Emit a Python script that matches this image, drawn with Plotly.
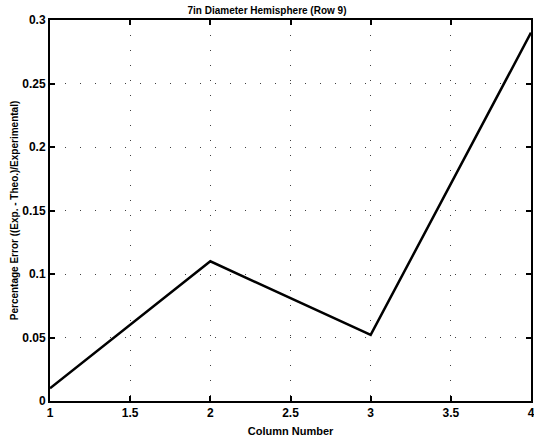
import plotly.graph_objects as go

# Percentage error per column, row 9 of the 7 in hemisphere
columns = [1, 2, 3, 4]
pct_error = [0.010, 0.110, 0.052, 0.290]

x_ticks = [1, 1.5, 2, 2.5, 3, 3.5, 4]
x_tick_text = ["1", "1.5", "2", "2.5", "3", "3.5", "4"]
y_ticks = [0, 0.05, 0.1, 0.15, 0.2, 0.25, 0.3]
y_tick_text = ["0", "0.05", "0.1", "0.15", "0.2", "0.25", "0.3"]

font_family = "Liberation Sans, Arial, sans-serif"

fig = go.Figure()
fig.add_trace(go.Scatter(
    x=columns, y=pct_error, mode="lines",
    line=dict(color="black", width=2.5),
    showlegend=False,
))

axis_common = dict(
    showline=True, linecolor="black", linewidth=2, mirror="ticks",
    ticks="inside", ticklen=5, tickcolor="black", tickwidth=1.5,
    showgrid=True, gridcolor="rgba(0,0,0,0.75)", gridwidth=1,
    griddash="1px,14px", zeroline=False, automargin=False,
    ticklabeloverflow="allow",
    tickfont=dict(family=font_family, size=12, color="black", weight="bold"),
)

fig.update_layout(
    width=534, height=441,
    margin=dict(l=50, r=3, t=20, b=40),
    paper_bgcolor="white", plot_bgcolor="white",
    title=dict(
        text="<b>7in Diameter Hemisphere (Row 9)</b>",
        x=0.5, xanchor="center", y=0.985, yanchor="top",
        font=dict(family=font_family, size=10, color="black"),
    ),
    xaxis=dict(
        range=[1, 4], tickvals=x_ticks, ticktext=x_tick_text,
        title=dict(text="<b>Column Number</b>", standoff=8,
                   font=dict(family=font_family, size=11, color="black")),
        **axis_common,
    ),
    yaxis=dict(
        range=[0, 0.3], tickvals=y_ticks, ticktext=y_tick_text,
        title=dict(text="<b>Percentage Error ((Exp. - Theo.)/Experimental)</b>", standoff=2,
                   font=dict(family=font_family, size=10, color="black")),
        **axis_common,
    ),
)

fig.write_html("out.html")
